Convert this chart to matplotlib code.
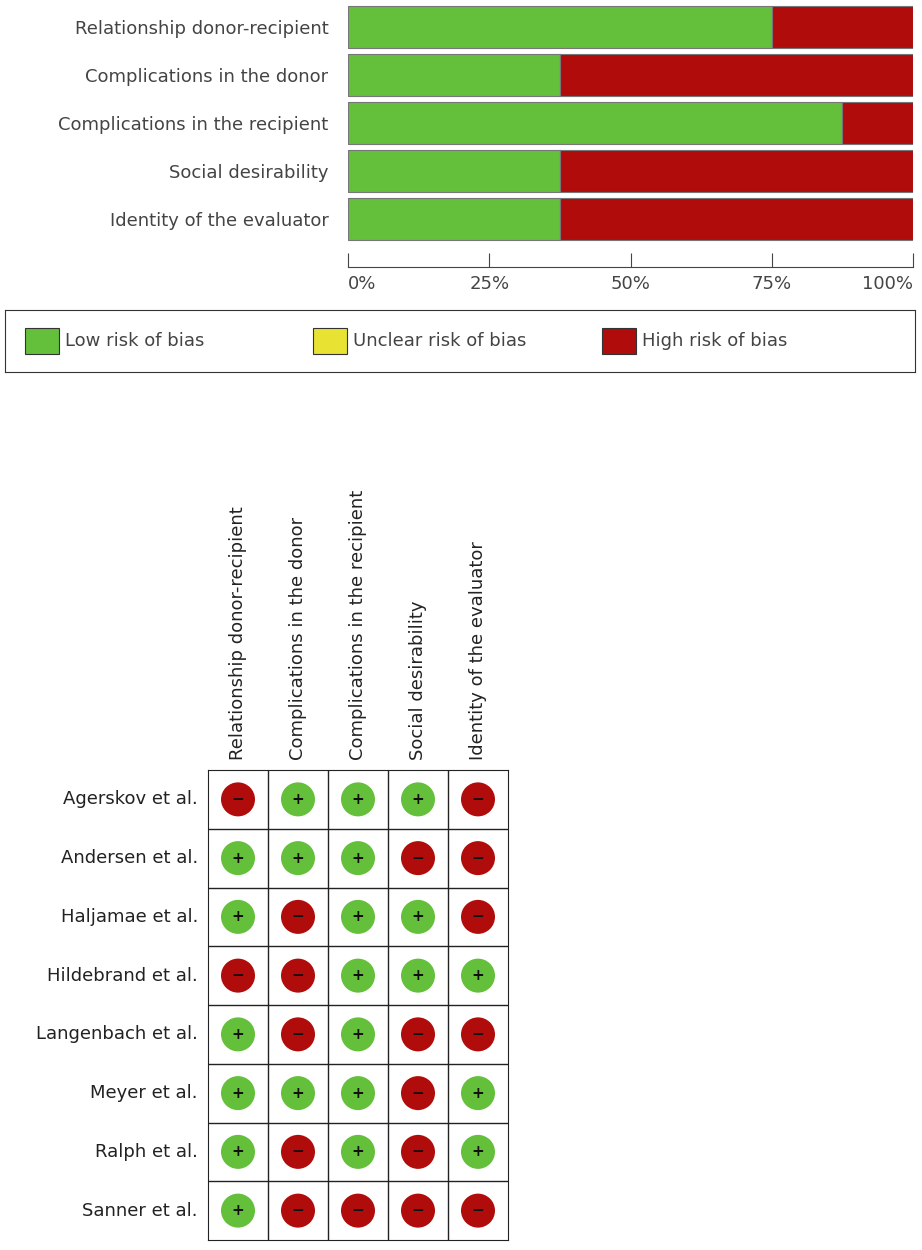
import matplotlib
matplotlib.use("Agg")
import matplotlib.pyplot as plt
import numpy as np

domains = ["Relationship donor-recipient", "Complications in the donor",
           "Complications in the recipient", "Social desirability",
           "Identity of the evaluator"]
studies = ["Agerskov et al.", "Andersen et al.", "Haljamae et al.", "Hildebrand et al.",
           "Langenbach et al.", "Meyer et al.", "Ralph et al.", "Sanner et al."]
# 1 = low risk (+), -1 = high risk (-)
judgements = [
    [-1, 1, 1, 1, -1],
    [1, 1, 1, -1, -1],
    [1, -1, 1, 1, -1],
    [-1, -1, 1, 1, 1],
    [1, -1, 1, -1, -1],
    [1, 1, 1, -1, 1],
    [1, -1, 1, -1, 1],
    [1, -1, -1, -1, -1],
]
tick_vals = [0, 25, 50, 75, 100]
tick_labels = ["0%", "25%", "50%", "75%", "100%"]

GREEN = "#64bf3a"
RED = "#b00c0c"
YELLOW = "#e8e233"
TXT = "#444444"
W, H = 922, 1250

def px_axes(fig, x0, y0, x1, y1):
    return fig.add_axes([x0 / W, 1 - y1 / H, (x1 - x0) / W, (y1 - y0) / H])

fig = plt.figure(figsize=(W / 100, H / 100), dpi=100)
fig.patch.set_facecolor("white")

# summary bars
J = np.array(judgements)
low = (J == 1).mean(axis=0) * 100
high = (J == -1).mean(axis=0) * 100
ax = px_axes(fig, 348, 3, 913, 243)
y = np.arange(len(domains))
ax.barh(y, low, height=0.88, color=GREEN, edgecolor="#777777", linewidth=0.8)
ax.barh(y, high, left=low, height=0.88, color=RED, edgecolor="#777777", linewidth=0.8)
ax.set_ylim(len(domains) - 0.5, -0.5)
ax.set_xlim(0, 100)
ax.set_yticks(y)
ax.set_yticklabels(domains, fontsize=13, color=TXT)
ax.tick_params(axis="y", length=0, pad=14)
for s in ["top", "left", "right"]:
    ax.spines[s].set_visible(False)
ax.spines["bottom"].set_position(("outward", 17))
ax.spines["bottom"].set_color(TXT)
ax.set_xticks(tick_vals)
ax.set_xticklabels(tick_labels, fontsize=13, color=TXT)
ax.tick_params(axis="x", direction="in", length=10, color=TXT, pad=6)
for lab, ha in zip(ax.get_xticklabels(), ["left", "center", "center", "center", "right"]):
    lab.set_ha(ha)

# legend box
lax = px_axes(fig, 5, 310, 915, 372)
lax.set_xlim(0, 910)
lax.set_ylim(62, 0)
lax.set_xticks([]); lax.set_yticks([])
for s in lax.spines.values():
    s.set_color("#333333")
for x0, c, t in [(20, GREEN, "Low risk of bias"), (308, YELLOW, "Unclear risk of bias"),
                 (597, RED, "High risk of bias")]:
    lax.add_patch(plt.Rectangle((x0, 18), 34, 26, facecolor=c, edgecolor="#333333", lw=0.8))
    lax.text(x0 + 40, 31, t, fontsize=13, color=TXT, va="center")

# traffic-light grid
gx0, gy0, cw, ch = 208, 770, 60, 58.75
nr, nc = len(studies), len(domains)
gax = px_axes(fig, gx0, gy0, gx0 + cw * nc, gy0 + ch * nr)
gax.set_xlim(0, nc)
gax.set_ylim(nr, 0)
gax.set_xticks([]); gax.set_yticks([])
for s in gax.spines.values():
    s.set_color("#222222")
for i in range(1, nc):
    gax.axvline(i, color="#222222", lw=1)
for i in range(1, nr):
    gax.axhline(i, color="#222222", lw=1)
for r in range(nr):
    for c in range(nc):
        v = judgements[r][c]
        gax.add_patch(matplotlib.patches.Ellipse((c + 0.5, r + 0.5), 34 / cw, 34 / ch,
                                                 facecolor=GREEN if v == 1 else RED,
                                                 edgecolor="none"))
        gax.text(c + 0.5, r + 0.5, "+" if v == 1 else "\u2212", ha="center", va="center",
                 fontsize=11, fontweight="bold", color="#111111")
for r, s in enumerate(studies):
    fig.text((gx0 - 10) / W, 1 - (gy0 + ch * (r + 0.5)) / H, s, ha="right", va="center",
             fontsize=13, color="#222222")
for c, d in enumerate(domains):
    fig.text((gx0 + cw * (c + 0.5)) / W, 1 - 760 / H, d, rotation=90, ha="center",
             va="bottom", fontsize=13, color="#222222")

fig.savefig("out.png", dpi=100, facecolor="white")
